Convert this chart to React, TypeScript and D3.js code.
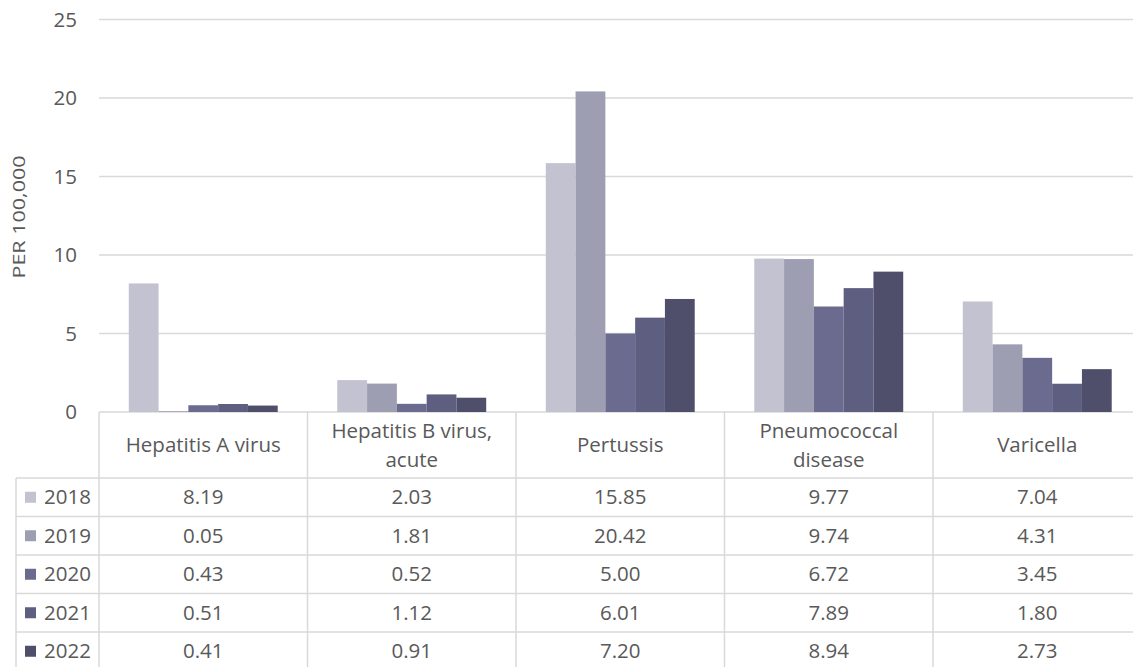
import React from "react";
import * as d3 from "d3";

const categories: string[][] = [
  ["Hepatitis A virus"],
  ["Hepatitis B virus,", "acute"],
  ["Pertussis"],
  ["Pneumococcal", "disease"],
  ["Varicella"],
];
const years = ["2018", "2019", "2020", "2021", "2022"];
const values2018 = [8.19, 2.03, 15.85, 9.77, 7.04];
const values2019 = [0.05, 1.81, 20.42, 9.74, 4.31];
const values2020 = [0.43, 0.52, 5.0, 6.72, 3.45];
const values2021 = [0.51, 1.12, 6.01, 7.89, 1.8];
const values2022 = [0.41, 0.91, 7.2, 8.94, 2.73];
const series = [values2018, values2019, values2020, values2021, values2022];
const colors = ["#c2c2d0", "#9e9eb3", "#6b6b90", "#5e5e80", "#4f4f6b"];
const yTicks = [0, 5, 10, 15, 20, 25];

const W = 1133;
const H = 667;
const FONT = "'Open Sans', sans-serif";
const TEXT = "#595959";
const GRID = "#d9d9d9";
const FS = 20.5;

export default function App() {
  const left = 99;
  const catW = 208.5;
  const y0 = 412;
  const y25 = 19.5;
  const x = d3
    .scaleBand<number>()
    .domain(categories.map((_, i) => i))
    .range([left, left + catW * categories.length])
    .padding(0);
  const xi = d3
    .scaleBand<string>()
    .domain(years)
    .range([0, x.bandwidth()])
    .paddingInner(0)
    .paddingOuter(1);
  const y = d3.scaleLinear().domain([0, 25]).range([y0, y25]);

  const headerBottom = 478;
  const rowH = 38.5;
  const legendLeft = 16;
  const tableRight = left + catW * categories.length;

  return (
    <svg
      width={W}
      height={H}
      style={{ position: "absolute", left: 0, top: 0, background: "#fff" }}
      fontFamily={FONT}
    >
      {yTicks.map((t) => (
        <line
          key={"g" + t}
          x1={left}
          x2={W}
          y1={y(t)}
          y2={y(t)}
          stroke={GRID}
          strokeWidth={1.5}
        />
      ))}
      {yTicks.map((t) => (
        <text
          key={"t" + t}
          x={77}
          y={y(t)}
          dy="0.35em"
          textAnchor="end"
          fontSize={FS}
          fill={TEXT}
        >
          {t}
        </text>
      ))}
      <text
        transform={`translate(19,217) rotate(-90)`}
        textAnchor="middle"
        dy="0.35em"
        fontSize={17}
        fill={TEXT}
        textLength={123}
        lengthAdjust="spacingAndGlyphs"
      >
        PER 100,000
      </text>
      {series.map((vals, si) =>
        vals.map((v, ci) => (
          <rect
            key={`b${si}-${ci}`}
            x={(x(ci) as number) + (xi(years[si]) as number)}
            y={y(v)}
            width={xi.bandwidth()}
            height={y0 - y(v)}
            fill={colors[si]}
          />
        ))
      )}
      {categories.map((_, ci) => (
        <line
          key={"v" + ci}
          x1={x(ci) as number}
          x2={x(ci) as number}
          y1={y0}
          y2={H}
          stroke={GRID}
          strokeWidth={1.5}
        />
      ))}
      <line
        x1={tableRight}
        x2={tableRight}
        y1={y0}
        y2={H}
        stroke={GRID}
        strokeWidth={1.5}
      />
      <line
        x1={legendLeft}
        x2={legendLeft}
        y1={headerBottom}
        y2={H}
        stroke={GRID}
        strokeWidth={1.5}
      />
      {years.map((_, ri) => (
        <line
          key={"h" + ri}
          x1={legendLeft}
          x2={W}
          y1={headerBottom + ri * rowH}
          y2={headerBottom + ri * rowH}
          stroke={GRID}
          strokeWidth={1.5}
        />
      ))}
      {categories.map((lines, ci) => {
        const cx = (x(ci) as number) + x.bandwidth() / 2;
        const cy = (y0 + headerBottom) / 2;
        const lh = 29;
        return (
          <text
            key={"c" + ci}
            x={cx}
            textAnchor="middle"
            fontSize={FS}
            fill={TEXT}
          >
            {lines.map((l, li) => (
              <tspan
                key={li}
                x={cx}
                y={cy + (li - (lines.length - 1) / 2) * lh}
                dy="0.35em"
              >
                {l}
              </tspan>
            ))}
          </text>
        );
      })}
      {years.map((yr, ri) => {
        const cy = headerBottom + ri * rowH + rowH / 2;
        return (
          <g key={"r" + yr}>
            <rect
              x={25}
              y={cy - 5.5}
              width={11}
              height={11}
              fill={colors[ri]}
            />
            <text x={44} y={cy} dy="0.35em" fontSize={FS} fill={TEXT}>
              {yr}
            </text>
            {series[ri].map((v, ci) => (
              <text
                key={ci}
                x={(x(ci) as number) + x.bandwidth() / 2}
                y={cy}
                dy="0.35em"
                textAnchor="middle"
                fontSize={FS}
                fill={TEXT}
              >
                {v.toFixed(2)}
              </text>
            ))}
          </g>
        );
      })}
    </svg>
  );
}
